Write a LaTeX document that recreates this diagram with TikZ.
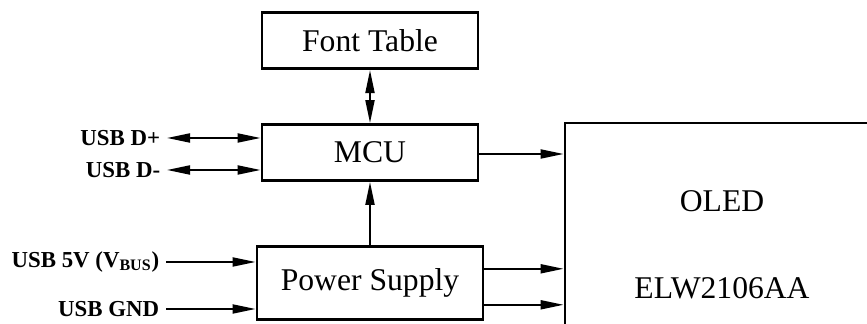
\documentclass[tikz,border=0pt]{standalone}
\usepackage{fontspec}
\setmainfont{Liberation Serif}
\usetikzlibrary{positioning, calc, arrows.meta}
\tikzset{
  block/.style = {rectangle, draw=black, line width=1.6pt, minimum width=4.32cm, minimum height=1.12cm, text centered, font=\fontsize{18}{21}\selectfont},
  arrow/.style = {line width=1.1pt, -{Triangle[length=0.46cm,width=0.18cm]}},
  twoway/.style = {line width=1.1pt, {Triangle[length=0.46cm,width=0.18cm]}-{Triangle[length=0.46cm,width=0.18cm]}},
  sig/.style = {anchor=east, inner sep=0.13cm, font=\bfseries\fontsize{13}{15}\selectfont}
}
\begin{document}
\begin{tikzpicture}
  \useasboundingbox (0,0) rectangle (17.34,6.48);
  \clip (0,0) rectangle (17.34,6.48);
  % blocks
  \node (mcu) [block] at (7.40,3.43) {MCU};
  \node (font) [block, above=1.06cm of mcu] {Font Table};
  \node (ps) [block, below=1.26cm of mcu, minimum width=4.52cm, minimum height=1.46cm] {Power Supply};
  \node (oled) [block, minimum width=6.28cm, minimum height=4.86cm, align=center] at (14.44,1.59) {OLED\\[1.0cm]ELW2106AA};
  % usb signals
  \node (dp) [sig] at (3.34,3.72) {USB D+};
  \node (dm) [sig] at (3.34,3.08) {USB D-};
  \node (vbus) [sig] at (3.32,1.24) {USB 5V (V\textsubscript{BUS})};
  \node (gnd) [sig] at (3.32,0.30) {USB GND};
  \draw [twoway] (dp.east) -- (dp.east -| mcu.west);
  \draw [twoway] (dm.east) -- (dm.east -| mcu.west);
  \draw [arrow] (vbus.east) -- (vbus.east -| ps.west);
  \draw [arrow] (gnd.east) -- (gnd.east -| ps.west);
  % internal links
  \draw [twoway] (font) -- (mcu);
  \draw [arrow] (ps) -- (mcu);
  \coordinate (m1) at ($(mcu.east)+(0,-0.03)$);
  \draw [arrow] (m1) -- (m1 -| oled.west);
  \coordinate (p1) at ($(ps.east)+(0,0.28)$);
  \coordinate (p2) at ($(ps.east)+(0,-0.44)$);
  \draw [arrow] (p1) -- (p1 -| oled.west);
  \draw [arrow] (p2) -- (p2 -| oled.west);
\end{tikzpicture}
\end{document}
